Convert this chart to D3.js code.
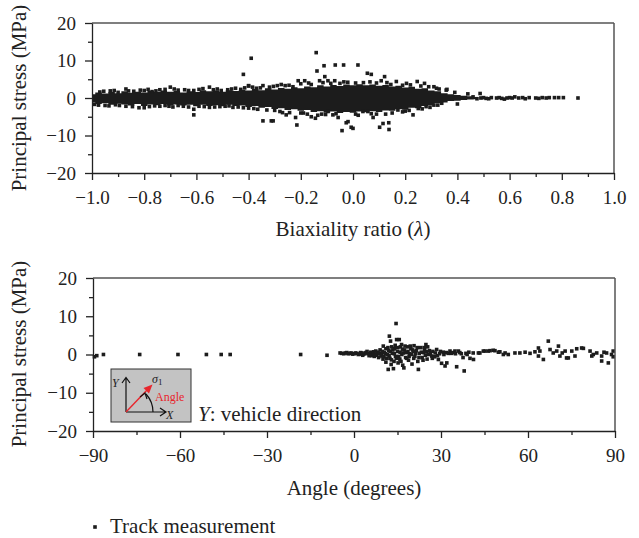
<!DOCTYPE html>
<html lang="en">
<head>
<meta charset="utf-8">
<script src="https://cdn.jsdelivr.net/npm/d3@7"></script>
<style>
  body { margin: 0; background: #fff; }
  text { font-family: "Liberation Serif", "Times New Roman", serif; fill: #222; }
  .axis path, .axis line { stroke: #222; stroke-width: 1.3; }
  .axis text { font-size: 19px; font-family: "Liberation Serif", serif; fill: #222; }
  .frame { stroke: #555; stroke-width: 1.5; fill: none; }
  .pt { fill: #1c1c1c; }
  .lbl { font-size: 21px; }
</style>
</head>
<body>
<script>
// ---- data ----

// top panel: dense core of the cloud (lambda, upper and lower edge in MPa)
var bandX  = [-1.000,-0.975,-0.950,-0.925,-0.900,-0.875,-0.850,-0.825,-0.800,-0.775,-0.750,-0.725,
              -0.700,-0.675,-0.650,-0.625,-0.600,-0.575,-0.550,-0.525,-0.500,-0.475,-0.450,-0.425,
              -0.400,-0.375,-0.350,-0.325,-0.300,-0.275,-0.250,-0.225,-0.200,-0.175,-0.150,-0.125,
              -0.100,-0.075,-0.050,-0.025,0.000,0.025,0.050,0.075,0.100,0.125,0.150,0.175,
              0.200,0.225,0.250,0.275,0.300,0.325,0.350,0.375,0.400,0.425,0.450,0.475];
var bandHi = [1.0,1.5,1.2,1.6,1.3,1.8,1.4,1.7,1.5,1.9,1.6,2.0,
              1.7,1.9,1.5,1.8,1.6,2.1,1.8,2.0,1.7,2.1,1.9,2.2,
              2.0,2.4,2.1,2.6,2.3,2.7,2.5,2.9,2.6,3.1,2.9,3.4,
              3.1,3.5,3.2,3.6,3.4,3.7,3.4,3.6,3.3,3.5,3.1,3.3,
              2.8,3.0,2.5,2.6,2.0,1.8,1.3,1.0,0.8,0.6,0.5,0.3];
var bandLo = [-1.2,-1.6,-1.4,-1.8,-1.5,-1.7,-2.0,-1.6,-2.1,-1.7,-1.9,-1.6,
              -2.0,-1.7,-2.0,-1.8,-2.2,-1.8,-2.1,-1.9,-2.2,-1.8,-2.1,-2.0,
              -2.4,-2.1,-2.6,-2.4,-2.9,-2.7,-3.2,-3.0,-3.4,-3.2,-3.7,-3.5,
              -3.9,-3.6,-4.0,-3.7,-3.9,-3.6,-3.8,-3.5,-3.7,-3.3,-3.4,-3.0,
              -3.1,-2.6,-2.7,-2.1,-2.0,-1.4,-1.2,-0.8,-0.7,-0.5,-0.4,-0.3];

// top panel: single points on the edges, outliers and the tail
var biaxPoints = [
  [-0.97,1.6],[-0.93,1.9],[-0.90,1.5],[-0.87,2.4],[-0.84,1.8],[-0.80,2.0],[-0.77,1.7],[-0.74,2.2],
  [-0.70,2.9],[-0.67,2.1],[-0.63,2.0],[-0.59,2.3],[-0.55,2.9],[-0.52,2.4],[-0.48,2.2],[-0.45,2.6],
  [-0.43,2.3],[-0.40,3.3],[-0.37,2.6],[-0.345,3.3],[-0.32,2.9],[-0.29,3.3],[-0.26,3.3],[-0.23,3.0],
  [-0.21,4.6],[-0.185,4.6],[-0.16,3.6],[-0.138,7.2],[-0.128,4.6],[-0.108,5.7],[-0.096,4.6],[-0.07,4.6],
  [-0.05,3.9],[-0.02,4.2],[0.019,8.8],[0.04,4.1],[0.055,6.6],[0.07,6.3],[0.09,4.0],[0.108,4.6],
  [0.121,5.7],[0.145,3.6],[0.166,4.4],[0.19,3.4],[0.22,3.5],[0.246,4.4],[0.274,3.9],[0.29,3.0],
  [0.31,3.0],[0.33,2.4],[0.357,2.1],[0.36,2.3],[0.39,1.5],[0.44,1.1],
  [-0.955,1.8],[-0.915,2.0],[-0.86,1.9],[-0.815,2.1],[-0.785,2.3],[-0.755,1.9],[-0.72,2.3],[-0.685,2.4],
  [-0.645,2.2],[-0.61,2.0],[-0.575,2.5],[-0.535,2.2],[-0.505,2.0],[-0.465,2.4],[-0.415,2.7],[-0.385,2.9],
  [-0.355,2.7],[-0.305,3.1],[-0.275,3.6],[-0.245,3.4],[-0.2,3.8],[-0.17,4.0],[-0.115,4.1],[-0.085,3.9],
  [-0.035,4.3],[0.01,4.0],[0.065,4.3],[0.13,4.1],[0.205,3.9],[0.26,3.2],[0.32,2.6],
  [-0.99,-1.7],[-0.95,-2.0],[-0.91,-1.8],[-0.87,-2.2],[-0.82,-2.6],[-0.80,-2.6],[-0.76,-2.1],[-0.72,-2.0],
  [-0.69,-2.4],[-0.65,-2.2],[-0.61,-3.0],[-0.61,-4.5],[-0.57,-2.3],[-0.53,-2.4],[-0.49,-2.2],[-0.46,-2.5],
  [-0.42,-2.6],[-0.38,-2.8],[-0.345,-6.1],[-0.313,-6.1],[-0.306,-6.1],[-0.33,-3.2],[-0.30,-3.3],[-0.28,-3.6],
  [-0.256,-4.5],[-0.243,-3.9],[-0.22,-5.2],[-0.215,-7.2],[-0.19,-4.0],[-0.16,-5.0],[-0.144,-5.4],[-0.12,-4.3],
  [-0.096,-3.6],[-0.077,-4.5],[-0.057,-5.2],[-0.042,-8.7],[-0.026,-6.6],[-0.019,-6.3],[-0.007,-7.8],[0.0,-8.1],
  [0.02,-4.6],[0.038,-3.6],[0.057,-3.6],[0.077,-5.2],[0.09,-4.3],[0.102,-7.8],[0.115,-6.8],[0.137,-6.6],
  [0.138,-8.4],[0.15,-4.0],[0.172,-3.2],[0.20,-3.5],[0.23,-4.5],[0.25,-2.8],[0.28,-2.3],[0.31,-1.9],
  [0.34,-1.4],[0.40,-1.6],
  [-0.975,-1.9],[-0.935,-2.1],[-0.895,-2.0],[-0.845,-2.3],[-0.78,-2.3],[-0.74,-2.2],[-0.705,-2.2],[-0.67,-2.0],
  [-0.63,-2.4],[-0.59,-2.2],[-0.55,-2.5],[-0.51,-2.3],[-0.475,-2.1],[-0.44,-2.4],[-0.40,-2.7],[-0.365,-3.0],
  [-0.27,-3.9],[-0.2,-4.0],[-0.175,-4.3],[-0.135,-4.6],[-0.105,-4.4],[-0.065,-4.2],[0.01,-4.3],[0.07,-4.2],
  [0.125,-4.3],[0.19,-3.7],[0.215,-3.3],[0.265,-2.9],[0.295,-2.5],[0.325,-1.9],
  [-0.42,6.3],[-0.39,10.6],[-0.40,3.2],[-0.141,12.1],[-0.111,8.6],[-0.068,8.8],[-0.036,8.8],
  [0.46,0.3],[0.475,-0.2],[0.487,1.2],[0.49,0.0],[0.50,0.1],[0.51,-0.1],[0.52,-0.2],[0.53,0.1],
  [0.55,0.0],[0.56,0.1],[0.57,-0.1],[0.58,-0.3],[0.59,0.0],[0.60,0.1],[0.61,0.0],[0.62,0.3],
  [0.635,0.0],[0.65,0.1],[0.66,-0.2],[0.675,0.1],[0.70,0.0],[0.712,-0.1],[0.725,0.1],[0.74,0.0],
  [0.752,0.1],[0.772,0.1],[0.788,0.1],[0.806,0.1],[0.862,0.0]
];

// bottom panel: angle (degrees), principal stress (MPa)
var anglePoints = [
  [-89.5,-0.6],[-88.7,-0.3],[-86.4,0.0],[-73.9,0.0],[-60.7,0.0],[-50.9,0.0],[-45.8,0.0],[-42.7,0.0],
  [-18.4,0.0],[-9.3,-0.2],
  [-4.8,0.4],[-4.2,0.3],[-3.5,0.2],[-3.0,0.4],[-2.5,0.5],[-2.0,0.2],[-1.5,0.3],[-1.0,0.4],[-0.5,0.1],
  [0.0,0.2],[0.5,0.4],[1.0,0.3],[1.5,0.0],[2.0,0.1],[2.3,0.5],[2.7,0.4],[3.0,-0.2],[3.4,0.1],
  [3.8,0.3],[4.1,0.5],[4.5,0.8],[4.9,0.2],[5.2,-0.3],[5.5,0.2],[5.8,0.6],[6.0,-0.3],[6.5,0.1],
  [6.8,0.7],[7.0,-0.5],[7.3,0.0],[7.5,0.9],[7.8,-0.2],[8.0,0.2],[8.3,0.6],[8.5,-0.8],[8.8,0.3],
  [9.0,1.2],[9.3,-0.4],[9.5,0.0],[9.8,0.8],
  [10.0,-1.2],[10.1,2.2],[10.3,-0.6],[10.5,0.5],[10.8,0.2],[11.0,1.5],[11.0,-2.0],[11.3,-1.0],
  [11.5,0.0],[11.7,1.8],[11.8,-3.9],[12.0,1.0],[12.1,-0.3],[12.2,4.8],[12.4,-1.0],[12.5,0.8],
  [12.6,3.5],[12.8,-2.6],[12.9,-1.4],[13.0,2.0],[13.2,0.3],[13.4,1.2],[13.6,-3.7],[13.8,-1.8],
  [13.9,0.2],[14.0,1.5],[14.2,2.4],[14.3,-0.5],[14.5,8.1],[14.6,-1.0],[14.7,3.9],[15.0,0.8],
  [15.1,1.8],[15.2,-2.2],[15.4,-0.5],[15.6,3.9],[15.8,-1.2],[15.9,0.6],[16.0,2.0],[16.2,-1.8],
  [16.4,2.6],[16.5,0.0],[16.7,1.4],[16.8,-2.8],[17.0,0.4],[17.2,-3.5],[17.4,1.2],[17.6,2.2],
  [17.8,-0.8],[18.0,0.5],[18.2,-1.0],[18.5,2.0],[18.6,0.8],[18.8,-1.5],[19.0,-0.5],[19.2,0.2],
  [19.4,2.2],[19.6,1.5],[19.8,0.0],[20.0,-2.5],[20.2,1.2],[20.4,0.8],[20.6,-1.0],[20.7,2.3],
  [21.0,-0.5],[21.2,0.3],[21.5,1.0],[21.8,1.8],[22.0,-1.8],[22.2,-3.9],[22.4,-0.8],[22.5,0.3],
  [23.0,1.8],[23.2,0.6],[23.5,-0.8],[23.8,-1.5],[24.0,0.5],[24.2,1.8],[24.4,1.2],[24.6,-0.2],
  [24.8,2.6],[25.0,0.7],[25.2,-1.2],[25.4,2.0],[25.6,0.0],[26.0,1.0],[26.3,0.3],[26.8,-0.4],
  [27.0,-1.0],[27.2,0.8],[27.8,-0.6],[28.0,0.4],[28.5,1.3],[28.8,-0.3],[29.1,-1.3],[29.5,0.2],
  [29.8,0.8],[30.2,-2.3],[30.8,0.6],[31.0,0.0],[31.4,-3.0],[31.8,0.5],[32.0,-2.2],[32.5,0.3],
  [33.1,0.9],[33.6,0.3],[34.0,0.5],[34.8,0.9],[35.0,0.2],[35.4,-3.2],[36.0,0.9],[36.5,0.5],
  [37.0,0.2],[37.6,-0.8],[38.0,-4.3],[38.6,0.3],[39.0,0.0],[39.6,0.6],
  [40.0,-1.0],[41.1,0.4],[41.2,-1.3],[42.9,0.4],[43.4,0.4],[44.6,0.9],[45.2,0.9],[46.3,0.9],
  [46.9,1.0],[48.0,1.1],[48.6,1.0],[49.8,0.6],[50.3,0.7],[51.5,0.0],[52.1,0.4],[53.2,0.0],
  [55.5,0.4],[57.2,0.4],[59.0,0.6],[60.7,0.3],[62.4,0.7],[63.6,1.7],[63.6,-0.4],[64.1,0.9],
  [65.3,-1.3],[67.0,3.5],[67.6,1.3],[68.7,0.4],[69.9,0.9],[70.5,2.2],[71.0,-0.4],[71.8,0.4],
  [72.8,0.9],[73.3,-0.9],[73.9,-0.9],[75.1,0.9],[76.2,-0.4],[76.8,1.5],[78.5,1.7],[79.1,1.6],
  [81.4,0.9],[82.0,-0.4],[82.5,0.0],[83.7,0.4],[85.4,-0.4],[85.4,-1.7],[86.2,0.6],[87.1,0.4],
  [87.7,-2.2],[88.8,0.0],[89.6,0.9],[89.6,-0.6]
];

var topXTicks = [-1.0,-0.8,-0.6,-0.4,-0.2,0.0,0.2,0.4,0.6,0.8,1.0];
var topXMinor = [-0.9,-0.7,-0.5,-0.3,-0.1,0.1,0.3,0.5,0.7,0.9];
var stressTicks = [-20,-10,0,10,20];
var stressMinor = [-15,-5,5,15];
var angleTicks = [-90,-60,-30,0,30,60,90];
var angleMinor = [-75,-45,-15,15,45,75];

var W = 639, H = 538;
var svg = d3.select("body").append("svg")
  .attr("width", W)
  .attr("height", H);

var markSize = 3.6;

// draw axes with major + minor ticks and the frame
function drawAxes(x, y, xTicks, xMinor, xFmt, yTicks, yMinor) {
  var x0 = x.range()[0], x1 = x.range()[1];
  var y0 = y.range()[0], y1 = y.range()[1];

  svg.append("line").attr("class", "frame")
    .attr("x1", x0).attr("x2", x1).attr("y1", y1).attr("y2", y1);
  svg.append("line").attr("class", "frame")
    .attr("x1", x1).attr("x2", x1).attr("y1", y1).attr("y2", y0);

  svg.append("g").attr("class", "axis")
    .attr("transform", "translate(0," + y0 + ")")
    .call(d3.axisBottom(x).tickValues(xTicks).tickFormat(xFmt)
      .tickSize(7).tickSizeOuter(0).tickPadding(11));
  svg.append("g").attr("class", "axis")
    .attr("transform", "translate(0," + y0 + ")")
    .call(d3.axisBottom(x).tickValues(xMinor).tickFormat("").tickSize(4).tickSizeOuter(0))
    .select(".domain").remove();

  svg.append("g").attr("class", "axis")
    .attr("transform", "translate(" + x0 + ",0)")
    .call(d3.axisLeft(y).tickValues(yTicks).tickFormat(d3.format("d"))
      .tickSize(7).tickSizeOuter(0).tickPadding(9));
  svg.append("g").attr("class", "axis")
    .attr("transform", "translate(" + x0 + ",0)")
    .call(d3.axisLeft(y).tickValues(yMinor).tickFormat("").tickSize(4).tickSizeOuter(0))
    .select(".domain").remove();
}

function yLabel(cy, txt) {
  svg.append("text")
    .attr("class", "lbl")
    .attr("transform", "translate(19," + cy + ") rotate(-90)")
    .attr("text-anchor", "middle")
    .attr("dy", "0.35em")
    .text(txt);
}

// ---------- top panel ----------
var xTop = d3.scaleLinear().domain([-1, 1]).range([92, 614]);
var yTop = d3.scaleLinear().domain([-20, 20]).range([173, 23]);

var band = bandX.map(function(d, i) { return [d, bandHi[i], bandLo[i]]; });
svg.append("path")
  .datum(band)
  .attr("class", "pt")
  .attr("d", d3.area()
    .curve(d3.curveStep)
    .x(function(d) { return xTop(d[0]); })
    .y0(function(d) { return yTop(d[2]); })
    .y1(function(d) { return yTop(d[1]); }));

svg.append("g").selectAll("rect")
  .data(biaxPoints)
  .enter().append("rect")
  .attr("class", "pt")
  .attr("x", function(d) { return Math.max(xTop(d[0]) - markSize / 2, 92); })
  .attr("y", function(d) { return yTop(d[1]) - markSize / 2; })
  .attr("width", markSize)
  .attr("height", markSize);

drawAxes(xTop, yTop, topXTicks, topXMinor, d3.format(".1f"), stressTicks, stressMinor);
yLabel(98, "Principal stress (MPa)");

var xl = svg.append("text")
  .attr("class", "lbl")
  .attr("x", 353).attr("y", 236)
  .attr("text-anchor", "middle");
xl.append("tspan").text("Biaxiality ratio (");
xl.append("tspan").style("font-style", "italic").text("λ");
xl.append("tspan").text(")");

// ---------- bottom panel ----------
var xBot = d3.scaleLinear().domain([-90, 90]).range([93, 615]);
var yBot = d3.scaleLinear().domain([-20, 20]).range([431, 278]);

svg.append("g").selectAll("rect")
  .data(anglePoints)
  .enter().append("rect")
  .attr("class", "pt")
  .attr("x", function(d) { return Math.min(xBot(d[0]) - markSize / 2, 615 - markSize); })
  .attr("y", function(d) { return yBot(d[1]) - markSize / 2; })
  .attr("width", markSize)
  .attr("height", markSize);

drawAxes(xBot, yBot, angleTicks, angleMinor, d3.format("d"), stressTicks, stressMinor);
yLabel(354, "Principal stress (MPa)");

svg.append("text")
  .attr("class", "lbl")
  .attr("x", 354).attr("y", 495)
  .attr("text-anchor", "middle")
  .text("Angle (degrees)");

// inset sketch of the coordinate system
var inset = svg.append("g");
inset.append("rect")
  .attr("x", 111).attr("y", 369).attr("width", 80).attr("height", 53)
  .attr("fill", "#c3c3c3").attr("stroke", "#333").attr("stroke-width", 1);
inset.append("path")
  .attr("d", "M126,412 L126,378 M122,383 L126,377.5 L130,383 M126,412 L165,412 M160,408 L166,412 L160,416")
  .attr("fill", "none").attr("stroke", "#111").attr("stroke-width", 1.2);
inset.append("path")
  .attr("d", "M126,412 L148,389")
  .attr("stroke", "#e8262d").attr("stroke-width", 1.4);
inset.append("path")
  .attr("d", "M152.5,384.5 L143.5,388 L149,393.5 Z")
  .attr("fill", "#e8262d");
inset.append("path")
  .attr("d", "M153,412 A27,27 0 0 0 146,394")
  .attr("fill", "none").attr("stroke", "#111").attr("stroke-width", 1.2);
inset.append("path")
  .attr("d", "M140,397 L145,393 L147,399")
  .attr("fill", "none").attr("stroke", "#111").attr("stroke-width", 1.2);
inset.append("text").attr("x", 112).attr("y", 387)
  .style("font-size", "12px").style("font-style", "italic").text("Y");
var sig = inset.append("text").attr("x", 152).attr("y", 383).style("font-size", "12px");
sig.append("tspan").style("font-style", "italic").text("σ");
sig.append("tspan").attr("dy", 2).style("font-size", "9px").text("1");
inset.append("text").attr("x", 155).attr("y", 401)
  .style("font-size", "12px").style("fill", "#e8262d").text("Angle");
inset.append("text").attr("x", 166).attr("y", 419)
  .style("font-size", "12px").style("font-style", "italic").text("X");

var note = svg.append("text").attr("class", "lbl").attr("x", 198).attr("y", 421);
note.append("tspan").style("font-style", "italic").text("Y");
note.append("tspan").text(": vehicle direction");

// legend
svg.append("rect").attr("class", "pt")
  .attr("x", 95 - markSize / 2).attr("y", 527 - markSize / 2)
  .attr("width", markSize).attr("height", markSize);
svg.append("text")
  .attr("class", "lbl")
  .attr("x", 110).attr("y", 533)
  .text("Track measurement");
</script>
</body>
</html>
